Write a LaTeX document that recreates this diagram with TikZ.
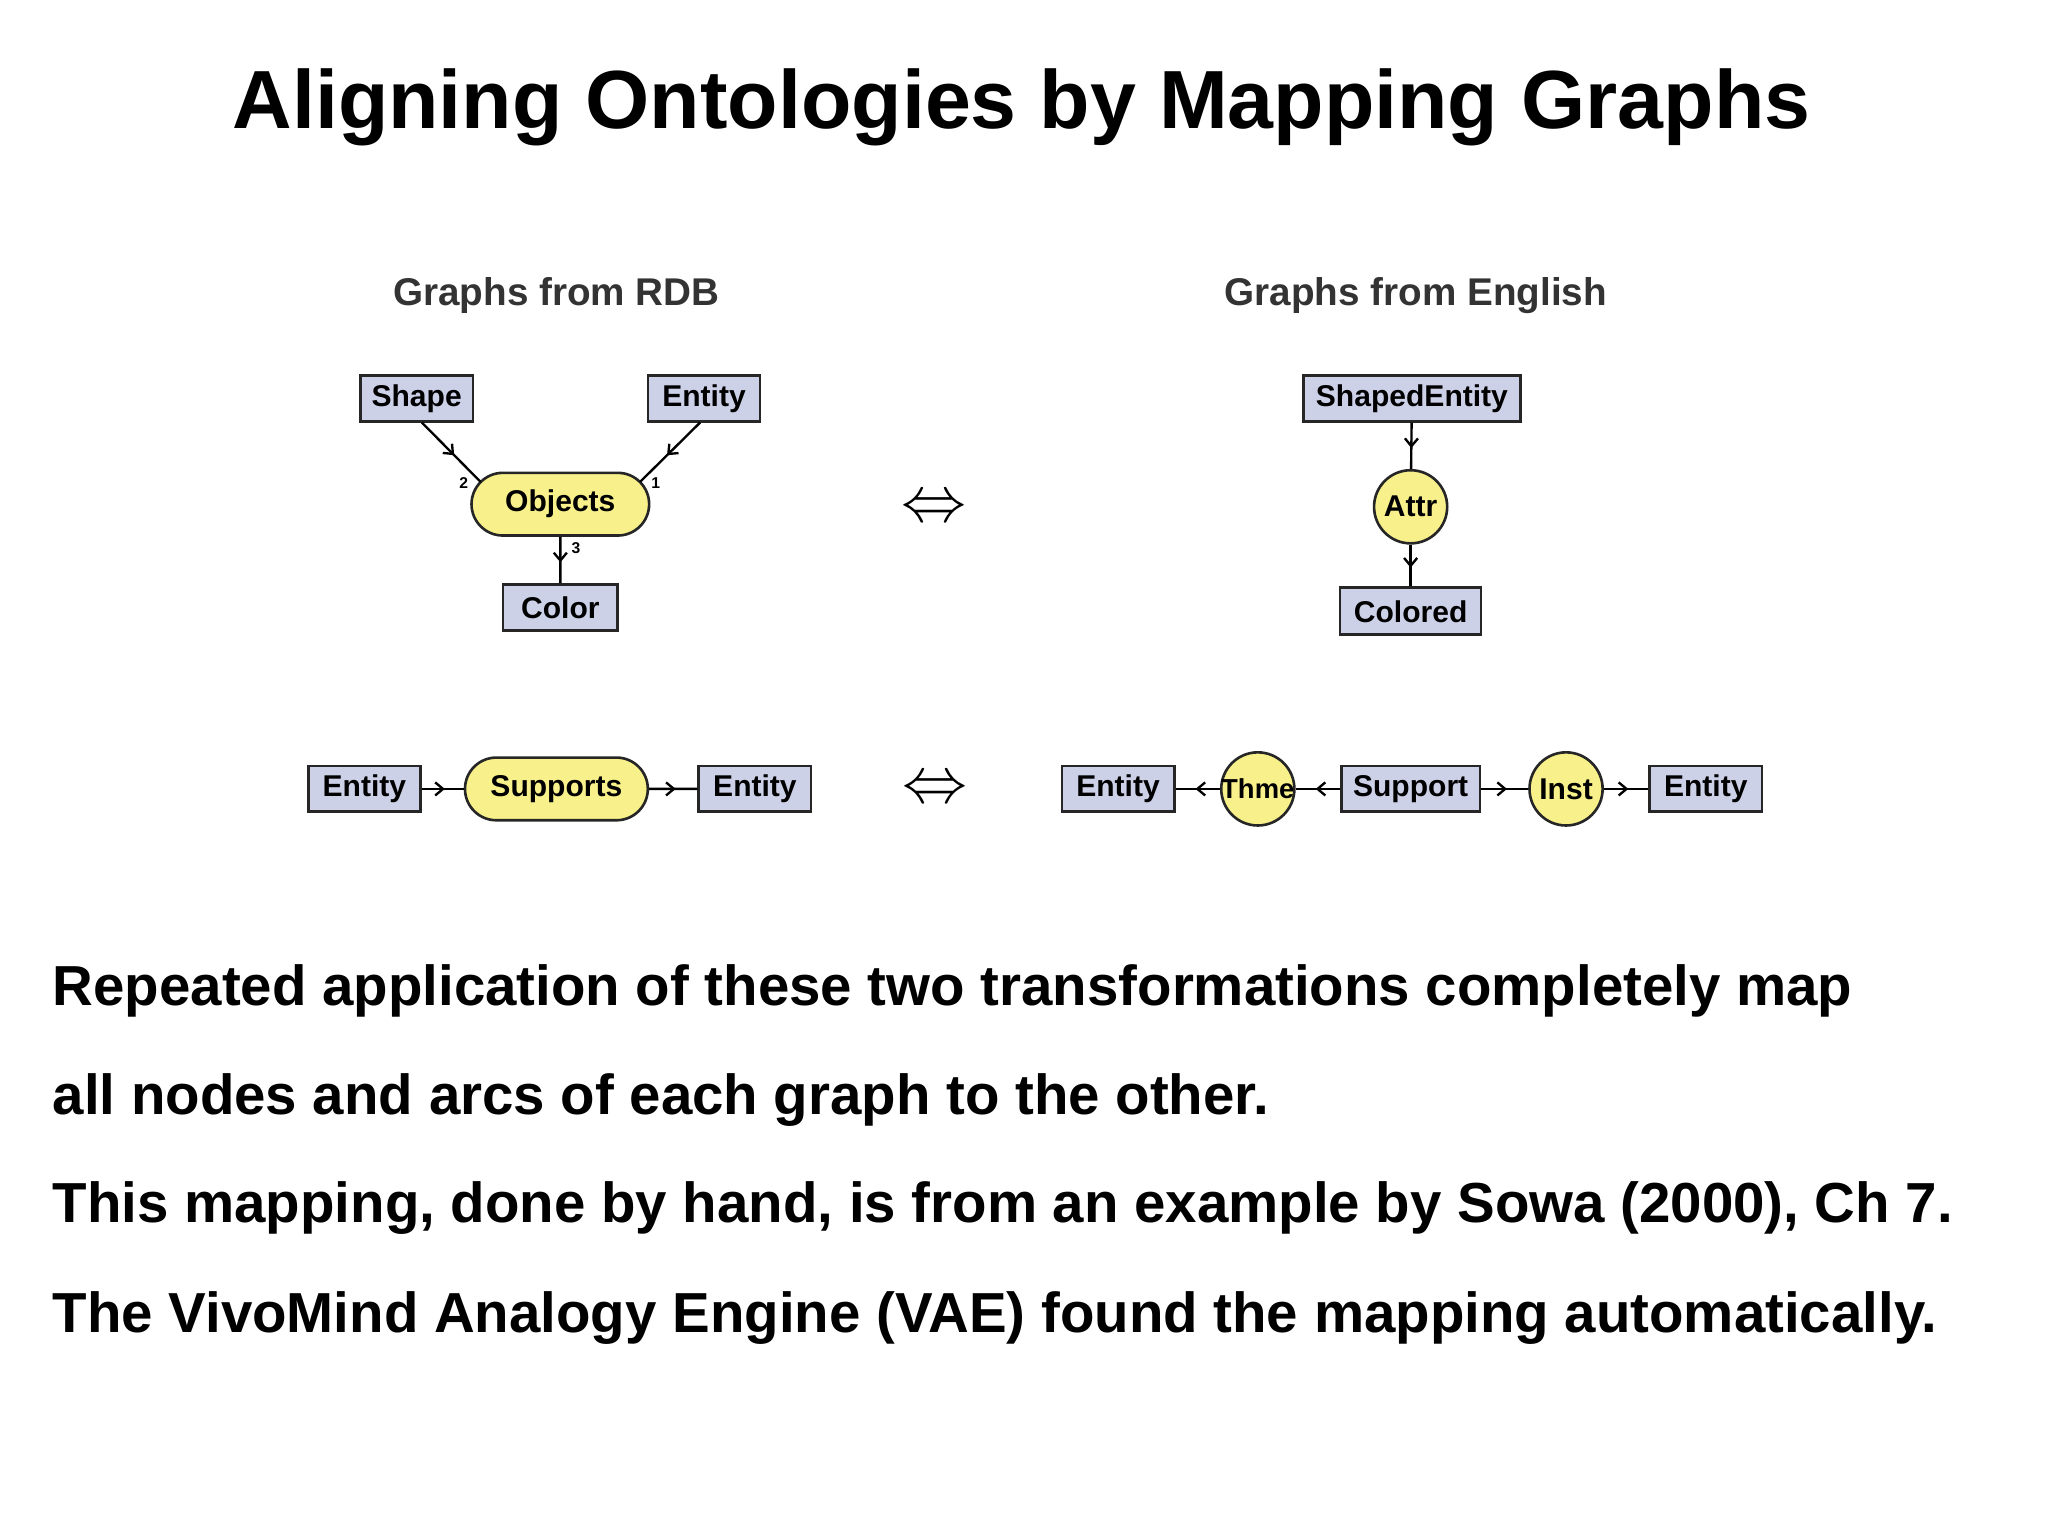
\documentclass[tikz,border=0pt]{standalone}
\usepackage{fontspec}
\setmainfont{Liberation Sans}
\usetikzlibrary{decorations.markings,arrows.meta,shapes.misc}
\definecolor{boxc}{HTML}{CDD1E8}
\definecolor{yel}{HTML}{F8F08A}
\begin{document}
\begin{tikzpicture}[x=0.5pt,y=-0.5pt,
  cbox/.style={draw=black!85,line width=1pt,fill=boxc,inner sep=0pt,minimum height=17.5pt,font=\fontsize{11.5}{13}\selectfont\bfseries},
  rel/.style={draw=black!85,line width=1pt,fill=yel,rounded rectangle,inner sep=0pt,minimum height=24pt,font=\fontsize{11.5}{13}\selectfont\bfseries},
  circ/.style={draw=black!85,line width=1pt,fill=yel,circle,inner sep=0pt,minimum size=28pt,font=\fontsize{11.5}{13}\selectfont\bfseries},
  mid/.style={line width=0.9pt,decoration={markings,mark=at position 0.55 with {\arrow{Straight Barb[length=3pt,width=5pt]}}},postaction={decorate}},
  hdr/.style={font=\fontsize{14.8}{17}\selectfont\bfseries,text=black!80},
  body/.style={font=\fontsize{21.6}{25}\selectfont\bfseries,anchor=base west,inner sep=0pt},
  lab/.style={font=\fontsize{6}{7}\selectfont\bfseries,inner sep=0pt}]
\useasboundingbox (0,0) rectangle (1568,1175);
\node[font=\fontsize{31.6}{36}\selectfont\bfseries] (title) at (782,82) {Aligning Ontologies by Mapping Graphs};
\node[hdr] (h1) at (426,226) {Graphs from RDB};
\node[hdr] (h2) at (1084,226) {Graphs from English};
% top left
\node[cbox,minimum width=43pt] (shape) at (319,305) {Shape};
\node[cbox,minimum width=43pt] (ent1) at (539,305) {Entity};
\node[rel,minimum width=68pt] (obj) at (429,386) {Objects};
\node[cbox,minimum width=44pt] (color) at (429,465) {Color};
\coordinate (oL) at (368,369);
\coordinate (oR) at (490,369);
\draw[mid] (shape.south -| 323,0) -- (oL);
\draw[mid] (ent1.south -| 536,0) -- (oR);
\draw[mid] (obj) -- (color);
\node[lab] (l2) at (355,370) {2};
\node[lab] (l1) at (502,370) {1};
\node[lab] (l3) at (441,420) {3};
% equivalences
\node[font=\fontsize{33}{36}\selectfont] (eq1) at (715,390) {$\Leftrightarrow$};
\node[font=\fontsize{33}{36}\selectfont] (eq2) at (716,605) {$\Leftrightarrow$};
% top right
\node[cbox,minimum width=83pt] (se) at (1081,305) {ShapedEntity};
\node[circ] (attr) at (1080,388) {Attr};
\node[cbox,minimum width=54pt,minimum height=18pt] (col2) at (1080,468) {Colored};
\draw[mid] (se) -- (attr);
\draw[mid] (attr) -- (col2);
% bottom left
\node[cbox,minimum width=43pt] (e2) at (279,604) {Entity};
\node[rel,minimum width=70pt] (sup) at (426,604) {Supports};
\node[cbox,minimum width=43pt] (e3) at (578,604) {Entity};
\draw[mid] (e2) -- (sup);
\draw[mid] (sup) -- (e3);
% bottom right
\node[cbox,minimum width=43pt] (e4) at (856,604) {Entity};
\node[circ,font=\fontsize{10.5}{12}\selectfont\bfseries] (thme) at (963,604) {\kern-3pt Thme\kern-3pt};
\node[cbox,minimum width=53pt] (supp) at (1080,604) {Support};
\node[circ] (inst) at (1199,604) {Inst};
\node[cbox,minimum width=43pt] (e5) at (1306,604) {Entity};
\draw[mid] (thme) -- (e4);
\draw[mid] (supp) -- (thme);
\draw[mid] (supp) -- (inst);
\draw[mid] (inst) -- (e5);
% text
\node[body] (t1) at (40,770) {Repeated application of these two transformations completely map};
\node[body] (t2) at (40,853) {all nodes and arcs of each graph to the other.};
\node[body] (t3) at (40,936) {This mapping, done by hand, is from an example by Sowa (2000), Ch 7.};
\node[body] (t4) at (40,1020) {The VivoMind Analogy Engine (VAE) found the mapping automatically.};
\end{tikzpicture}
\end{document}
